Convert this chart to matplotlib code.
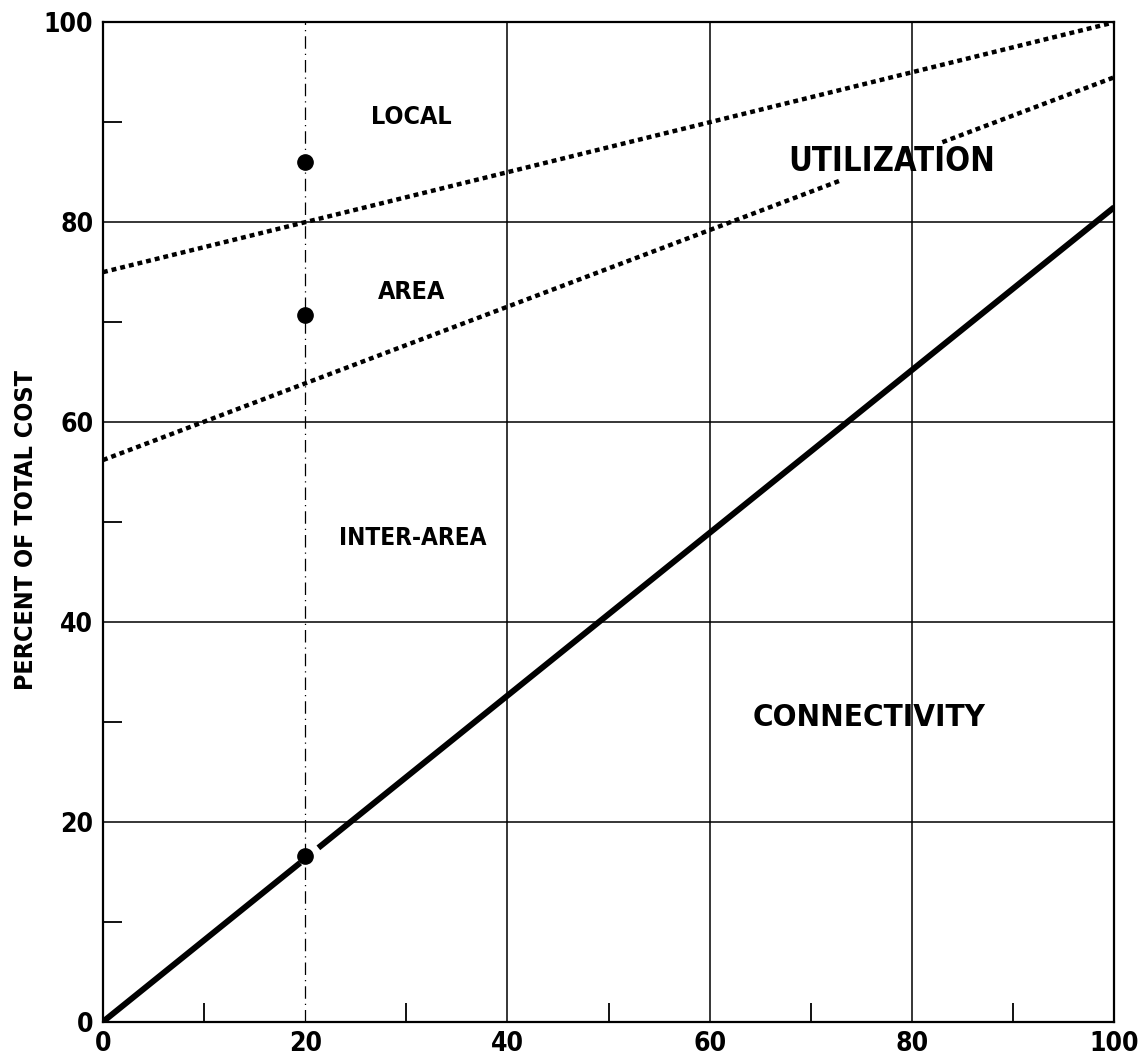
import os
import numpy as np
import matplotlib
matplotlib.use('Agg')
import matplotlib.pyplot as plt
from matplotlib import font_manager as fm

# tick values
major_ticks = [0, 20, 40, 60, 80, 100]
minor_ticks = [10, 30, 50, 70, 90]

# connectivity line (solid), broken around the dot at 20
conn_x = [0, 19.5, 21.3, 100]
conn_y = [0, 15.9, 17.4, 81.5]

# local / area boundary (dotted)
local_x = [0, 100]
local_y = [75, 100]

# area / inter-area boundary (dotted), broken behind the UTILIZATION label
area_x = [0, 73, 83, 100]
area_y = [56.2, 84.2, 88.0, 94.5]

# points on the 20 line
dot_x = [20, 20, 20]
dot_y = [86, 70.7, 16.6]

labels = ['LOCAL', 'AREA', 'INTER-AREA', 'UTILIZATION', 'CONNECTIVITY']
label_x = [30.5, 30.5, 30.6, 78, 75.8]
label_y = [90.5, 73, 48.4, 86.1, 30.4]
label_size = [18, 18, 17.5, 23.5, 22.5]


def pick_font():
    # look for a heavy condensed face, the original lettering is very narrow
    prefs = ['NotoSans-ExtraCondensedBlack', 'NotoSans-CondensedBlack',
             'NotoSans-ExtraCondensedExtraBold', 'NotoSans-CondensedExtraBold',
             'NotoSans-ExtraCondensedBold', 'NotoSans-CondensedBold',
             'LiberationSansNarrow-Bold', 'DejaVuSansCondensed-Bold',
             'RobotoCondensed-Bold', 'OpenSans-CondensedBold']
    files = set(fm.findSystemFonts()) | set(f.fname for f in fm.fontManager.ttflist)
    base = {}
    for f in files:
        base.setdefault(os.path.splitext(os.path.basename(f))[0].lower(), f)
    for p in prefs:
        if p.lower() in base:
            return fm.FontProperties(fname=base[p.lower()])
    return fm.FontProperties(family='DejaVu Sans', weight='bold')


fp = pick_font()


def fsize(s):
    f = fp.copy()
    f.set_size(s)
    return f


fig = plt.figure(figsize=(11.44, 10.61), dpi=100)
ax = fig.add_axes([0.090, 0.037, 0.884, 0.942])
ax.set_xlim(0, 100)
ax.set_ylim(0, 100)

# grid
for v in major_ticks[2:-1]:
    ax.axvline(v, color='black', lw=1.1, zorder=1)
ax.axvline(20, color='black', lw=0.9, ls=(0, (10, 4, 1, 4)), zorder=1)
for v in major_ticks[1:-1]:
    ax.axhline(v, color='black', lw=1.1, zorder=1)

# connectivity
ax.plot(conn_x[:2], conn_y[:2], color='black', lw=4.3, solid_capstyle='butt', zorder=3)
ax.plot(conn_x[2:], conn_y[2:], color='black', lw=4.3, solid_capstyle='butt', zorder=3)

# utilization boundaries
ax.plot(local_x, local_y, color='black', lw=3.2, ls=(0, (1.1, 0.9)), zorder=3)
ax.plot(area_x[:2], area_y[:2], color='black', lw=3.2, ls=(0, (1.1, 0.9)), zorder=3)
ax.plot(area_x[2:], area_y[2:], color='black', lw=3.2, ls=(0, (1.1, 0.9)), zorder=3)

ax.plot(dot_x, dot_y, 'o', color='black', ms=11, zorder=4)

for t, x, y, s in zip(labels, label_x, label_y, label_size):
    ax.text(x, y, t, fontproperties=fsize(s), ha='center', va='center', zorder=5)

ax.set_xticks(major_ticks)
ax.set_yticks(major_ticks)
ax.set_xticks(minor_ticks, minor=True)
ax.set_yticks(minor_ticks, minor=True)
ax.tick_params(which='major', length=0, pad=7)
ax.tick_params(which='minor', direction='in', length=14, width=1.3)
for lbl in ax.get_xticklabels() + ax.get_yticklabels():
    lbl.set_fontproperties(fsize(19))

for sp in ax.spines.values():
    sp.set_linewidth(1.6)

ax.set_ylabel('PERCENT OF TOTAL COST', fontproperties=fsize(18))
ax.yaxis.set_label_coords(-0.064, 0.492)

fig.savefig('out.png', dpi=100)
